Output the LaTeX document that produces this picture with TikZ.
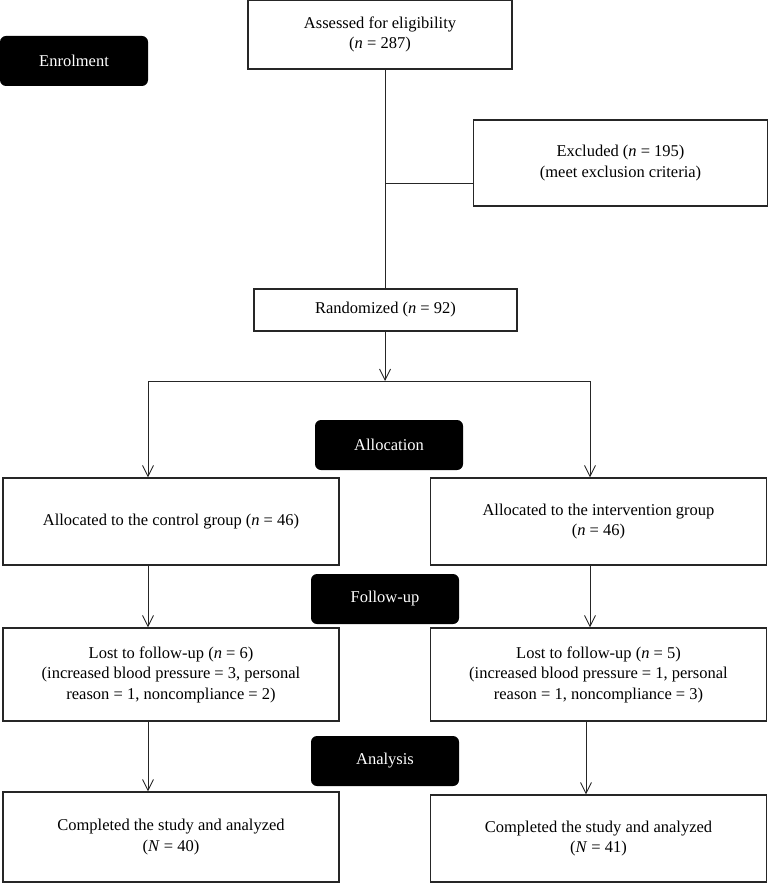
\documentclass[tikz,border=0pt]{standalone}
\usepackage{fontspec}
\setmainfont{Liberation Serif}
\usetikzlibrary{arrows.meta}
\tikzset{
  box/.style={draw=black!85, line width=1.1pt, fill=white, align=center, inner sep=2pt,
    font=\fontsize{16.5}{20.5}\selectfont},
  stage/.style={fill=black, rounded corners=6pt, text=white, align=center,
    minimum width=148pt, minimum height=50pt, font=\fontsize{16.5}{20}\selectfont},
  conn/.style={draw=black!85, line width=0.9pt},
  arr/.style={conn, -{Straight Barb[length=11pt,width=11pt,line width=0.9pt]}},
}
\begin{document}
\begin{tikzpicture}[x=1pt,y=-1pt]
\useasboundingbox (0,0) rectangle (768,885);
% stage labels
\node[stage] (enrol) at (74,61) {Enrolment};
\node[stage] (alloc) at (389,445) {Allocation};
\node[stage] (follow) at (385,599) {Follow-up};
\node[stage] (analysis) at (385,761) {Analysis};
% boxes
\node[box, minimum width=264pt, minimum height=69pt] (assess) at (380,34.5)
  {Assessed for eligibility\\(\textit{n} = 287)};
\node[box, minimum width=294pt, minimum height=86pt] (excl) at (620.5,163)
  {Excluded (\textit{n} = 195)\\(meet exclusion criteria)};
\node[box, minimum width=263pt, minimum height=42pt] (rand) at (385.5,310)
  {Randomized (\textit{n} = 92)};
\node[box, minimum width=336pt, minimum height=87pt] (ctrl) at (171,521.5)
  {Allocated to the control group (\textit{n} = 46)};
\node[box, minimum width=336pt, minimum height=87pt] (intv) at (598.5,521.5)
  {Allocated to the intervention group\\(\textit{n} = 46)};
\node[box, minimum width=336pt, minimum height=93pt] (lostc) at (171,674.5)
  {Lost to follow-up (\textit{n} = 6)\\(increased blood pressure = 3, personal\\reason = 1, noncompliance = 2)};
\node[box, minimum width=336pt, minimum height=93pt] (losti) at (598.5,674.5)
  {Lost to follow-up (\textit{n} = 5)\\(increased blood pressure = 1, personal\\reason = 1, noncompliance = 3)};
\node[box, minimum width=336pt, minimum height=90pt] (compc) at (171,837)
  {Completed the study and analyzed\\(\textit{N} = 40)};
\node[box, minimum width=336pt, minimum height=87pt] (compi) at (598.5,838.5)
  {Completed the study and analyzed\\(\textit{N} = 41)};
% connectors
\coordinate (jx) at (385,183);
\coordinate (split) at (385,381);
\coordinate (sl) at (148,381);
\coordinate (sr) at (590,381);
\draw[conn] (assess.south -| jx) -- (rand.north -| jx);
\draw[conn] (jx) -- (excl.west |- jx);
\draw[arr] (rand.south -| split) -- (split);
\draw[conn] (sl) -- (sr);
\draw[arr] (sl) -- (sl |- ctrl.north);
\draw[arr] (sr) -- (sr |- intv.north);
\draw[arr] (ctrl.south -| sl) -- (lostc.north -| sl);
\draw[arr] (intv.south -| sr) -- (losti.north -| sr);
\coordinate (rb) at (586,721);
\draw[arr] (lostc.south -| sl) -- (compc.north -| sl);
\draw[arr] (losti.south -| rb) -- (compi.north -| rb);
\end{tikzpicture}
\end{document}
